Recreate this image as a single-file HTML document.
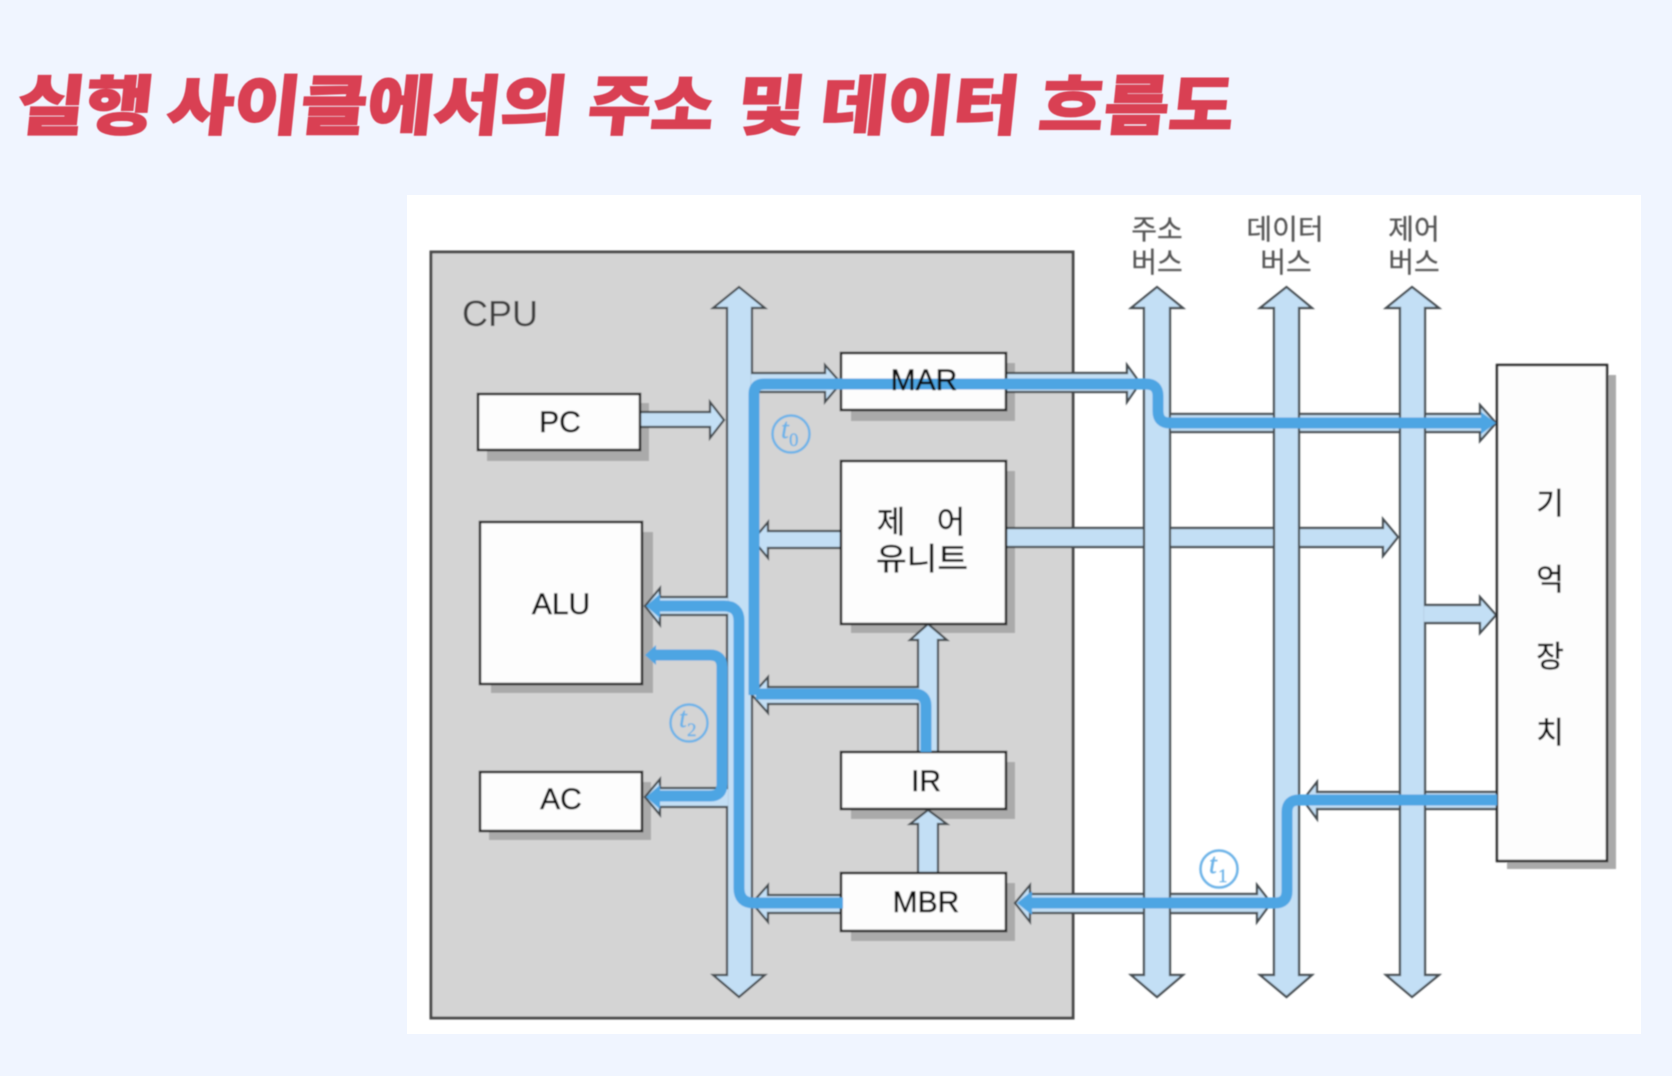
<!DOCTYPE html>
<html lang="ko"><head><meta charset="utf-8"><title>실행 사이클에서의 주소 및 데이터 흐름도</title>
<style>
html,body{margin:0;padding:0;background:#f0f5ff}
body{width:1672px;height:1076px;overflow:hidden;position:relative}
svg{position:absolute;left:0;top:0}
.k{font-family:"Liberation Sans","Noto Sans CJK KR",sans-serif}
.ti{font-family:"Noto Sans CJK KR",sans-serif;font-weight:900;font-size:72px;fill:#d93f52;stroke:#d93f52;stroke-width:1.5px}
.a{fill:#c3dff5;stroke:#454b50;stroke-width:2.200;stroke-linejoin:miter}
.b{fill:none;stroke:#4ea5e3;stroke-width:11}
.h{fill:#4ea5e3}
.box{fill:#fdfdfd;stroke:#262626;stroke-width:2.500}
.sh{fill:#aaa}
.t{font-size:30px;fill:#111;stroke:#111;stroke-width:.5px;text-anchor:middle}
.u{font-size:31px;fill:#111;stroke:#111;stroke-width:.5px;text-anchor:middle}
.l{font-size:28px;fill:#555;stroke:#555;stroke-width:.3px;text-anchor:middle}
.m{font-size:30px;fill:#111;stroke:#111;stroke-width:.5px;text-anchor:middle}
.c{fill:none;stroke:#6db3e8;stroke-width:2.500}
.tt{font-family:"Liberation Serif",serif;font-style:italic;fill:#6db3e8;stroke:#6db3e8;stroke-width:.4px}
.ts{font-family:"Liberation Serif",serif;fill:#6db3e8;stroke:#6db3e8;stroke-width:.4px}
</style></head><body>
<svg width="1672" height="1076" viewBox="0 0 1672 1076" xmlns="http://www.w3.org/2000/svg">
<defs><filter id="bl" x="0" y="0" width="1672" height="1076" filterUnits="userSpaceOnUse"><feGaussianBlur stdDeviation="0.7"/></filter>
<filter id="bt" x="0" y="0" width="1672" height="200" filterUnits="userSpaceOnUse"><feGaussianBlur stdDeviation="0.4"/></filter></defs>
<g filter="url(#bt)">
<g class="ti">
<text transform="translate(15,129) skewX(-6) scale(1,.9)" textLength="136" lengthAdjust="spacingAndGlyphs">실행</text>
<text transform="translate(165,129) skewX(-6) scale(1,.9)" textLength="400" lengthAdjust="spacingAndGlyphs">사이클에서의</text>
<text transform="translate(586,129) skewX(-6) scale(1,.9)" textLength="126" lengthAdjust="spacingAndGlyphs">주소</text>
<text transform="translate(735,129) skewX(-6) scale(1,.9)" textLength="68" lengthAdjust="spacingAndGlyphs">및</text>
<text transform="translate(819,129) skewX(-6) scale(1,.9)" textLength="198" lengthAdjust="spacingAndGlyphs">데이터</text>
<text transform="translate(1037,129) skewX(-6) scale(1,.9)" textLength="195" lengthAdjust="spacingAndGlyphs">흐름도</text>
</g></g>
<rect x="407" y="195" width="1234" height="839" fill="#fff"/>
<g filter="url(#bl)">
<rect x="431" y="252" width="642" height="766" fill="#d4d4d4" stroke="#4a4a4a" stroke-width="3"/>
<!-- shadows -->
<rect class="sh" x="487" y="403" width="162" height="58"/>
<rect class="sh" x="491" y="532" width="162" height="161"/>
<rect class="sh" x="489" y="782" width="162" height="58"/>
<rect class="sh" x="851" y="363" width="164" height="58"/>
<rect class="sh" x="851" y="471" width="164" height="162"/>
<rect class="sh" x="851" y="762" width="164" height="57"/>
<rect class="sh" x="851" y="883" width="164" height="58"/>
<rect class="sh" x="1507" y="375" width="109" height="494"/>
<!-- horizontal arrows under external buses -->
<path class="a" d="M1006 373H1127V365L1140 383L1127 402V392H1006"/>
<path class="a" d="M1006 528H1383V519L1398 537L1383 556V547H1006"/>
<path class="a" d="M1030 894H1257V885L1271 903L1257 922V913H1030V922L1015 903L1030 885Z"/>
<path class="a" d="M1497 792H1317V782L1303 800L1317 819V809H1497"/>
<!-- internal bus -->
<path class="a" d="M727 308H713L739 287L765 308H752V975H765L739 997L713 975H727Z"/>
<!-- branches -->
<path class="a" d="M640 412H710V402L724 420L710 438V427H640"/>
<path class="a" d="M751 373H825V365L841 383L825 402V392H751"/>
<path class="a" d="M841 531H768V522L753 540L768 558V548H841"/>
<path class="a" d="M728 597H660V588L645 606L660 625V615H728"/>
<path class="a" d="M728 788H660V779L645 797L660 815V807H728"/>
<path class="a" d="M938 752V640H947L928 624L910 640H918V752"/>
<path class="a" d="M919 687H768V677L752 695L768 713V704H919"/>
<path class="a" d="M938 873V824H947L928 810L910 824H918V873"/>
<path class="a" d="M841 895H768V885L752 903L768 922V913H841"/>
<!-- external buses -->
<path class="a" d="M1144 308H1131L1157 287L1183 308H1170V975H1183L1157 997L1131 975H1144Z"/>
<path class="a" d="M1171 414H1480V405L1496 423L1480 441V432H1171"/>
<path class="a" d="M1274 308H1260L1286.500 287L1312 308H1299V975H1312L1286.500 997L1260 975H1274Z"/>
<path class="a" d="M1400 308H1386L1412 287L1439 308H1425V975H1439L1412 997L1386 975H1400Z"/>
<path class="a" d="M1424 605H1480V597L1496 615L1480 633V623H1424"/>
<!-- boxes -->
<rect class="box" x="478" y="394" width="162" height="56"/>
<rect class="box" x="480" y="522" width="162" height="162"/>
<rect class="box" x="480" y="772" width="162" height="59"/>
<rect class="box" x="841" y="353" width="165" height="57"/>
<rect class="box" x="841" y="461" width="165" height="163"/>
<rect class="box" x="841" y="752" width="165" height="57"/>
<rect class="box" x="841" y="873" width="165" height="58"/>
<rect class="box" x="1497" y="365" width="110" height="496"/>
<!-- blue flow -->
<path class="b" d="M754 695V394Q754 384 764 384H1146Q1158 384 1158 396V411Q1158 423 1170 423H1485"/>
<path class="h" d="M1481 412L1496 423L1481 434Z"/>
<path class="b" d="M926 752V706Q926 694 914 694H756"/>
<path class="b" d="M655 606H724Q739 606 739 621V888Q739 903 754 903H843"/>
<path class="h" d="M646 606L660 594V618Z"/>
<path class="b" d="M652 655H710Q722 655 722 667V784Q722 796 710 796H655"/>
<path class="h" d="M645 655L656 645V665Z"/>
<path class="h" d="M646 797L660 785V809Z"/>
<path class="b" d="M1025 903H1275Q1287 903 1287 891V812Q1287 800 1299 800H1497"/>
<path class="h" d="M1017 903L1032 891V915Z"/>
<!-- circles -->
<circle class="c" cx="791" cy="434" r="18.500"/>
<text class="tt" x="781" y="438" font-size="28">t</text><text class="ts" x="789" y="446" font-size="19">0</text>
<circle class="c" cx="689" cy="723" r="18.500"/>
<text class="tt" x="679" y="727" font-size="28">t</text><text class="ts" x="687" y="736" font-size="19">2</text>
<circle class="c" cx="1219" cy="869" r="18.500"/>
<text class="tt" x="1209" y="873" font-size="28">t</text><text class="ts" x="1218" y="882" font-size="19">1</text>
<!-- labels -->
<g class="k">
<text x="462" y="326" font-size="36" fill="#3c3c3c">CPU</text>
<text class="t" x="560" y="432">PC</text>
<text class="t" x="561" y="614">ALU</text>
<text class="t" x="561" y="809">AC</text>
<text class="t" x="924" y="390">MAR</text>
<text class="t" x="926" y="791">IR</text>
<text class="t" x="926" y="912">MBR</text>
<text class="u" x="891" y="533">제</text>
<text class="u" x="951" y="533">어</text>
<text class="u" x="922" y="570" textLength="92" lengthAdjust="spacingAndGlyphs" text-anchor="start" style="text-anchor:middle">유니트</text>
<text class="l" x="1157" y="239">주소</text>
<text class="l" x="1157" y="272">버스</text>
<text class="l" x="1285" y="239">데이터</text>
<text class="l" x="1286" y="272">버스</text>
<text class="l" x="1414" y="239">제어</text>
<text class="l" x="1414" y="272">버스</text>
<text class="m" x="1550" y="514">기</text>
<text class="m" x="1550" y="590">억</text>
<text class="m" x="1550" y="667">장</text>
<text class="m" x="1550" y="743">치</text>
</g>
</g>
</svg>
</body></html>
